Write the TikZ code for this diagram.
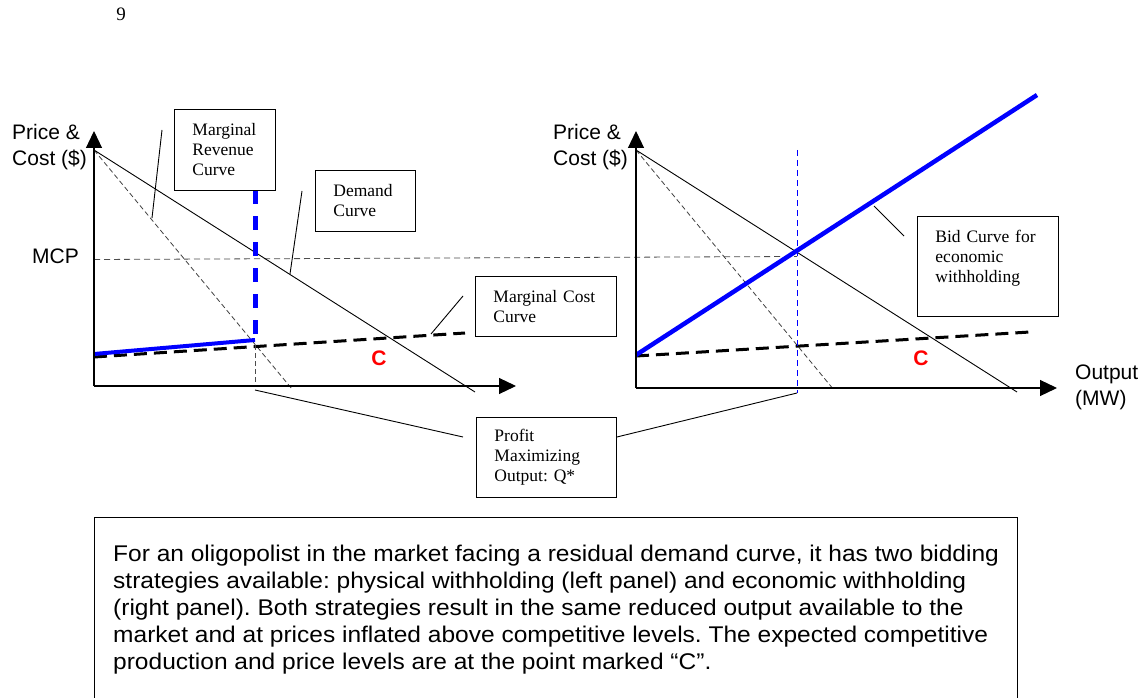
\documentclass[tikz,border=0pt]{standalone}
\usepackage{fontspec}
\setmainfont{Liberation Serif}
\setsansfont{Liberation Sans}
\newfontfamily\notefont{Liberation Sans}[FakeStretch=1.08]
\frenchspacing
\usetikzlibrary{%
        arrows.meta%
    }
\tikzset{%
  axis/.style={line width=1.2pt,-{Triangle[length=17pt,width=16pt]}},%
  mcline/.style={line width=3pt,dash pattern=on 13pt off 7pt},%
  mrline/.style={line width=0.8pt,black!75,dash pattern=on 5pt off 3pt},%
  leader/.style={line width=0.9pt},%
  callout/.style={draw,line width=0.9pt,fill=white,anchor=north west,align=left,
    inner xsep=18pt,inner ysep=0pt,font=\fontsize{17.5}{20}\selectfont},%
  axislabel/.style={inner sep=0pt,align=left,font=\sffamily\fontsize{21}{26}\selectfont},%
  cpoint/.style={inner sep=0pt,text=red,font=\sffamily\bfseries\fontsize{21}{21}\selectfont}%
}

\begin{document}
\begin{tikzpicture}[x=1pt,y=-1pt]
      \useasboundingbox (0,0) rectangle (1146,698);
      \node[inner sep=0pt,font=\fontsize{19}{19}\selectfont] (pagenum) at (121,14) {9};% page number

      % market clearing price, across both panels
      \draw[black!70,line width=0.8pt,dash pattern=on 6pt off 4pt] (94,259.5) -- (797,256.5);

      % left panel: physical withholding
      \draw[mrline] (94,150) -- (292,389);% marginal revenue
      \draw[line width=0.9pt] (94,150) -- (475,392);% demand
      \draw[mcline] (94,357) -- (465,333);% marginal cost
      \draw[black!70,line width=0.8pt,dash pattern=on 5pt off 3pt] (255,345) -- (255,386);% Q*
      \draw[blue,line width=4pt] (94,354) -- (255,340);% bid up to Q*
      \draw[blue,line width=5pt,dash pattern=on 14pt off 12pt] (255,190) -- (255,340);% withheld
      \draw[axis] (94,386) -- (94,131);
      \draw[axis] (94,386) -- (516,386);

      % right panel: economic withholding
      \draw[mrline] (636,150) -- (834,390);% marginal revenue
      \draw[line width=0.9pt] (636,150) -- (1017,392);% demand
      \draw[mcline] (636,356) -- (1030,332);% marginal cost
      \draw[blue,line width=0.9pt,dash pattern=on 6pt off 4pt] (797,150) -- (797,393);% Q*
      \draw[blue,line width=4.5pt] (636,355) -- (1037,95);% bid curve
      \draw[axis] (636,388) -- (636,131);
      \draw[axis] (636,388) -- (1057,388);

      %labels
      \node[axislabel,anchor=north west] (ylabl) at (12,124) {Price \&\\Cost (\$)};
      \node[axislabel,anchor=north west] (ylabr) at (553,124) {Price \&\\Cost (\$)};
      \node[axislabel,anchor=west] (mcp) at (32,256) {MCP};
      \node[axislabel,anchor=north west] (xlab) at (1075,365) {Output\\(MW)};
      \node[cpoint] (cl) at (379,358) {C};
      \node[cpoint] (cr) at (921,358) {C};

      % callout boxes
      \node[callout,text width=65pt,minimum height=81pt] (mrbox) at (174,109)
        {Marginal\\Revenue\\Curve};
      \node[callout,text width=64pt,minimum height=61pt] (dbox) at (315,170)
        {Demand\\Curve};
      \node[callout,text width=105pt,minimum height=60pt] (mcbox) at (475,276)
        {Marginal Cost\\Curve};
      \node[callout,text width=105pt,minimum height=100pt] (bidbox) at (917,216)
        {Bid Curve for\\economic\\withholding\\\mbox{}};
      \node[callout,text width=104pt,minimum height=80pt] (qbox) at (476,417)
        {Profit\\Maximizing\\Output: Q*};

      % leaders
      \coordinate (mrtop) at (162,130);
      \coordinate (mrfoot) at (152,218);
      \coordinate (dtop) at (302,191);
      \coordinate (dfoot) at (290,274);
      \coordinate (mctop) at (463,296);
      \coordinate (mcfoot) at (431,334);
      \coordinate (bidtop) at (874,206);
      \coordinate (bidfoot) at (904,236);
      \coordinate (qleft) at (255,390);
      \coordinate (qlefttop) at (463,437);
      \coordinate (qright) at (797,393);
      \draw[leader] (mrtop) -- (mrfoot);
      \draw[leader] (dtop) -- (dfoot);
      \draw[leader] (mctop) -- (mcfoot);
      \draw[leader] (bidtop) -- (bidfoot);
      \draw[leader] (qleft) -- (qlefttop);
      \draw[leader] (qbox.east |- qlefttop) -- (qright);

      % explanation
      \draw[line width=1pt] (94,698) -- (94,517) -- (1017,517) -- (1017,698);
      \node[anchor=north west,inner sep=0pt,align=left,
        font=\notefont\fontsize{22.7}{27}\selectfont] (note) at (113,545)
        {For an oligopolist in the market facing a residual demand curve, it has two bidding\\
         strategies available: physical withholding (left panel) and economic withholding\\
         (right panel). Both strategies result in the same reduced output available to the\\
         market and at prices inflated above competitive levels. The expected competitive\\
         production and price levels are at the point marked “C”.};
    \end{tikzpicture}
\end{document}
